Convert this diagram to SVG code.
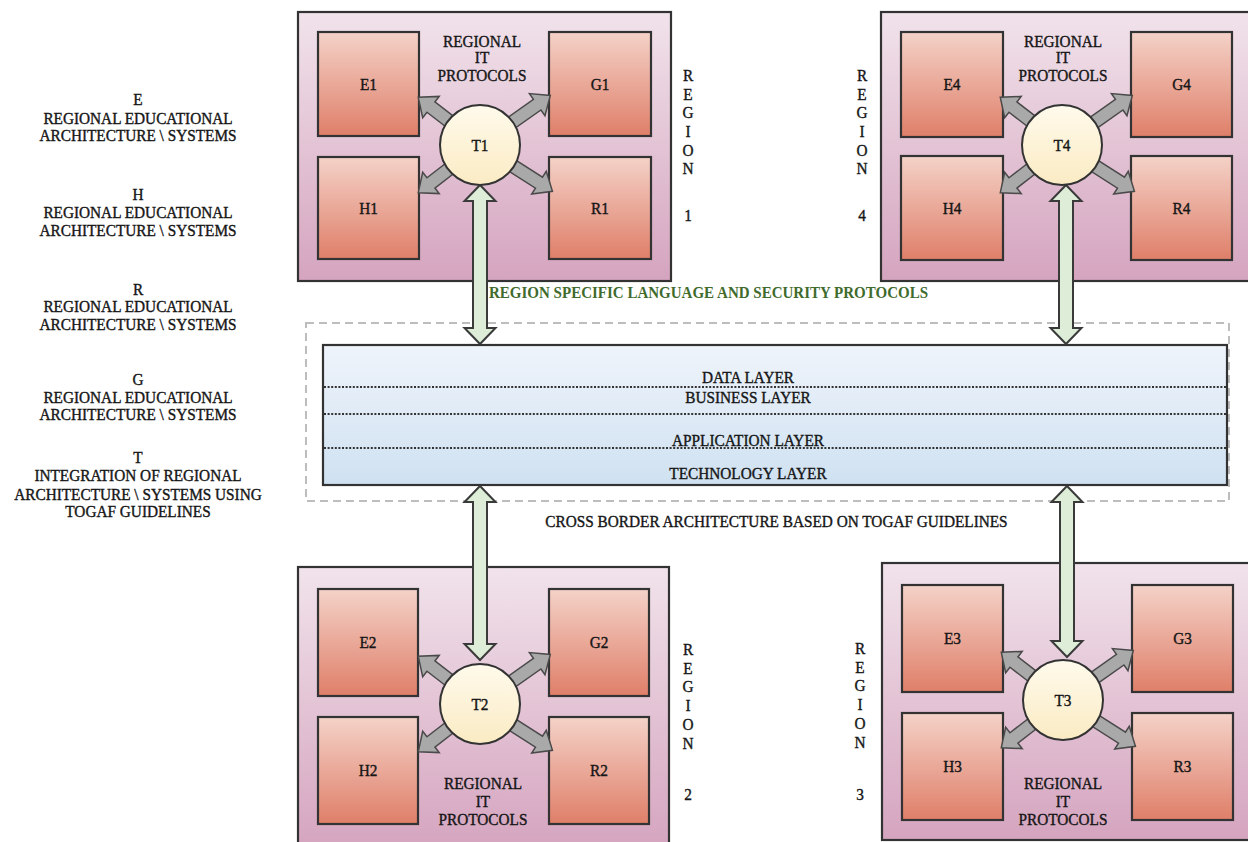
<svg xmlns="http://www.w3.org/2000/svg" width="1248" height="842" viewBox="0 0 1248 842">
<defs>
<style>
.t{font-family:"Liberation Serif","Times New Roman",serif;font-size:17px;fill:#161616;stroke:#161616;stroke-width:0.4}
.c{text-anchor:middle}
.reg{fill:url(#gReg);stroke:#333333;stroke-width:2.2}
.box{fill:url(#gBox);stroke:#333333;stroke-width:2.2}
.tc{fill:url(#gT);stroke:#333333;stroke-width:2}
.ga{fill:#a9a9a9;stroke:#4a4a4a;stroke-width:1.5}
.gr{fill:#ddedd8;stroke:#3a3a3a;stroke-width:2}
.dot{stroke:#333;stroke-width:2;stroke-dasharray:2 1.6}
.grn{font-family:"Liberation Serif","Times New Roman",serif;font-size:17px;font-weight:bold;fill:#3f6b2d}
</style>
<linearGradient id="gReg" x1="0" y1="0" x2="0" y2="1"><stop offset="0" stop-color="#f1e3eb"/><stop offset="1" stop-color="#d5a4bf"/></linearGradient>
<linearGradient id="gBox" x1="0" y1="0" x2="0" y2="1"><stop offset="0" stop-color="#f4d2c8"/><stop offset="1" stop-color="#df7f69"/></linearGradient>
<linearGradient id="gT" x1="0" y1="0" x2="0" y2="1"><stop offset="0" stop-color="#fffaec"/><stop offset="1" stop-color="#faebc3"/></linearGradient>
<linearGradient id="gLay" x1="0" y1="0" x2="0" y2="1"><stop offset="0" stop-color="#eff4fb"/><stop offset="1" stop-color="#cfe1f1"/></linearGradient>
<path id="gaS" class="ga" d="M28,-6.5 H62 V-13.5 L78,0 L62,13.5 V6.5 H28 Z"/>
<path id="gaL" class="ga" d="M28,-6.5 H70 V-13.5 L86,0 L70,13.5 V6.5 H28 Z"/>
</defs>
<rect x="0" y="0" width="1248" height="842" fill="#ffffff"/>

<g id="legend" class="t c" transform="scale(0.9,1)">
<text x="153.33" y="105">E</text>
<text x="153.33" y="124">REGIONAL EDUCATIONAL</text>
<text x="153.33" y="141">ARCHITECTURE \ SYSTEMS</text>
<text x="153.33" y="200">H</text>
<text x="153.33" y="218">REGIONAL EDUCATIONAL</text>
<text x="153.33" y="236">ARCHITECTURE \ SYSTEMS</text>
<text x="153.33" y="295">R</text>
<text x="153.33" y="312">REGIONAL EDUCATIONAL</text>
<text x="153.33" y="330">ARCHITECTURE \ SYSTEMS</text>
<text x="153.33" y="385">G</text>
<text x="153.33" y="403">REGIONAL EDUCATIONAL</text>
<text x="153.33" y="420">ARCHITECTURE \ SYSTEMS</text>
<text x="153.33" y="463">T</text>
<text x="153.33" y="481">INTEGRATION OF REGIONAL</text>
<text x="153.33" y="500">ARCHITECTURE \ SYSTEMS USING</text>
<text x="153.33" y="517">TOGAF GUIDELINES</text>
</g>

<g id="layers">
<rect x="306" y="323" width="923" height="178" fill="none" stroke="#bdbdbd" stroke-width="2" stroke-dasharray="8 5"/>
<rect x="323" y="345" width="904" height="140" fill="url(#gLay)" stroke="#333333" stroke-width="2.2"/>
<line class="dot" x1="324" y1="387" x2="1226" y2="387"/>
<line class="dot" x1="324" y1="414" x2="1226" y2="414"/>
<line class="dot" x1="324" y1="448" x2="1226" y2="448"/>
<g class="t c" transform="scale(0.9,1)">
<text x="831.11" y="383">DATA LAYER</text>
<text x="831.11" y="403">BUSINESS LAYER</text>
<text x="831.11" y="446">APPLICATION LAYER</text>
<text x="831.11" y="479">TECHNOLOGY LAYER</text>
<text x="862.78" y="527">CROSS BORDER ARCHITECTURE BASED ON TOGAF GUIDELINES</text>
</g>
</g>

<g id="region1">
<rect class="reg" x="298" y="12" width="373" height="269"/>
<g class="t c" transform="scale(0.9,1)">
<text x="535.56" y="47">REGIONAL</text>
<text x="535.56" y="63.5">IT</text>
<text x="535.56" y="81">PROTOCOLS</text>
<text><tspan x="764.44" y="81">R</tspan><tspan x="764.44" y="99.7">E</tspan><tspan x="764.44" y="118.4">G</tspan><tspan x="764.44" y="137.1">I</tspan><tspan x="764.44" y="155.8">O</tspan><tspan x="764.44" y="174.5">N</tspan><tspan x="764.44" y="221">1</tspan></text>
</g>
</g>
<g id="E1"><rect class="box" x="318" y="32" width="101" height="104"/><text class="t c" transform="scale(0.9,1)" x="409.44" y="90">E1</text></g>
<g id="G1"><rect class="box" x="549" y="32" width="102" height="104"/><text class="t c" transform="scale(0.9,1)" x="666.67" y="90">G1</text></g>
<g id="H1"><rect class="box" x="318" y="157" width="101" height="102"/><text class="t c" transform="scale(0.9,1)" x="409.44" y="214">H1</text></g>
<g id="R1"><rect class="box" x="549" y="157" width="102" height="102"/><text class="t c" transform="scale(0.9,1)" x="666.67" y="214">R1</text></g>

<g id="region4">
<rect class="reg" x="881" y="12" width="369" height="269"/>
<g class="t c" transform="scale(0.9,1)">
<text x="1181.11" y="47">REGIONAL</text>
<text x="1181.11" y="63.5">IT</text>
<text x="1181.11" y="81">PROTOCOLS</text>
<text><tspan x="957.78" y="81">R</tspan><tspan x="957.78" y="99.7">E</tspan><tspan x="957.78" y="118.4">G</tspan><tspan x="957.78" y="137.1">I</tspan><tspan x="957.78" y="155.8">O</tspan><tspan x="957.78" y="174.5">N</tspan><tspan x="957.78" y="221">4</tspan></text>
</g>
</g>
<g id="E4"><rect class="box" x="901" y="32" width="102" height="105"/><text class="t c" transform="scale(0.9,1)" x="1057.78" y="90">E4</text></g>
<g id="G4"><rect class="box" x="1131" y="32" width="101" height="105"/><text class="t c" transform="scale(0.9,1)" x="1312.78" y="90">G4</text></g>
<g id="H4"><rect class="box" x="901" y="156" width="102" height="104"/><text class="t c" transform="scale(0.9,1)" x="1057.78" y="214">H4</text></g>
<g id="R4"><rect class="box" x="1131" y="156" width="101" height="104"/><text class="t c" transform="scale(0.9,1)" x="1312.78" y="214">R4</text></g>

<g id="region2">
<rect class="reg" x="298" y="567" width="371" height="282"/>
<g class="t c" transform="scale(0.9,1)">
<text x="536.67" y="789">REGIONAL</text>
<text x="536.67" y="807">IT</text>
<text x="536.67" y="825">PROTOCOLS</text>
<text><tspan x="764.44" y="655">R</tspan><tspan x="764.44" y="674">E</tspan><tspan x="764.44" y="692.5">G</tspan><tspan x="764.44" y="711">I</tspan><tspan x="764.44" y="730">O</tspan><tspan x="764.44" y="749">N</tspan><tspan x="764.44" y="800">2</tspan></text>
</g>
</g>
<g id="E2"><rect class="box" x="318" y="589" width="100" height="107"/><text class="t c" transform="scale(0.9,1)" x="408.89" y="648">E2</text></g>
<g id="G2"><rect class="box" x="549" y="589" width="100" height="107"/><text class="t c" transform="scale(0.9,1)" x="665.56" y="648">G2</text></g>
<g id="H2"><rect class="box" x="318" y="717" width="100" height="107"/><text class="t c" transform="scale(0.9,1)" x="408.89" y="776">H2</text></g>
<g id="R2"><rect class="box" x="549" y="717" width="100" height="107"/><text class="t c" transform="scale(0.9,1)" x="665.56" y="776">R2</text></g>

<g id="region3">
<rect class="reg" x="882" y="563" width="368" height="277"/>
<g class="t c" transform="scale(0.9,1)">
<text x="1181.11" y="789">REGIONAL</text>
<text x="1181.11" y="807">IT</text>
<text x="1181.11" y="825">PROTOCOLS</text>
<text><tspan x="955.56" y="654">R</tspan><tspan x="955.56" y="673">E</tspan><tspan x="955.56" y="691.5">G</tspan><tspan x="955.56" y="710">I</tspan><tspan x="955.56" y="729">O</tspan><tspan x="955.56" y="748">N</tspan><tspan x="955.56" y="800">3</tspan></text>
</g>
</g>
<g id="E3"><rect class="box" x="902" y="585" width="101" height="107"/><text class="t c" transform="scale(0.9,1)" x="1058.33" y="644">E3</text></g>
<g id="G3"><rect class="box" x="1132" y="585" width="101" height="107"/><text class="t c" transform="scale(0.9,1)" x="1313.89" y="644">G3</text></g>
<g id="H3"><rect class="box" x="902" y="713" width="101" height="107"/><text class="t c" transform="scale(0.9,1)" x="1058.33" y="772">H3</text></g>
<g id="R3"><rect class="box" x="1132" y="713" width="101" height="107"/><text class="t c" transform="scale(0.9,1)" x="1313.89" y="772">R3</text></g>

<g id="connectors">
<use href="#gaS" transform="translate(480,145) rotate(-142.3)"/>
<use href="#gaL" transform="translate(480,145) rotate(-35.2)"/>
<use href="#gaS" transform="translate(480,145) rotate(142.3)"/>
<use href="#gaL" transform="translate(480,145) rotate(32.6)"/>
<use href="#gaS" transform="translate(1062,145) rotate(-142.3)"/>
<use href="#gaL" transform="translate(1062,145) rotate(-35.2)"/>
<use href="#gaS" transform="translate(1062,145) rotate(142.3)"/>
<use href="#gaL" transform="translate(1062,145) rotate(32.6)"/>
<use href="#gaS" transform="translate(480,704) rotate(-142.3)"/>
<use href="#gaL" transform="translate(480,704) rotate(-35.2)"/>
<use href="#gaS" transform="translate(480,704) rotate(142.3)"/>
<use href="#gaL" transform="translate(480,704) rotate(32.6)"/>
<use href="#gaS" transform="translate(1063,700) rotate(-142.3)"/>
<use href="#gaL" transform="translate(1063,700) rotate(-35.2)"/>
<use href="#gaS" transform="translate(1063,700) rotate(142.3)"/>
<use href="#gaL" transform="translate(1063,700) rotate(32.6)"/>
<path class="gr" d="M480,185 L495.5,201 L487,201 L487,328 L495.5,328 L480,344 L464.5,328 L473,328 L473,201 L464.5,201 Z"/>
<path class="gr" d="M1066,185 L1081.5,201 L1073,201 L1073,328 L1081.5,328 L1066,344 L1050.5,328 L1059,328 L1059,201 L1050.5,201 Z"/>
<path class="gr" d="M480,486 L495.5,502 L487,502 L487,644 L495.5,644 L480,660 L464.5,644 L473,644 L473,502 L464.5,502 Z"/>
<path class="gr" d="M1067,486 L1082.5,502 L1074,502 L1074,641 L1082.5,641 L1067,657 L1051.5,641 L1060,641 L1060,502 L1051.5,502 Z"/>
<text class="grn" transform="scale(0.9,1)" x="543.33" y="298" textLength="487.8" lengthAdjust="spacingAndGlyphs">REGION SPECIFIC LANGUAGE AND SECURITY PROTOCOLS</text>
</g>

<g id="T1"><circle class="tc" cx="480" cy="145" r="40"/><text class="t c" transform="scale(0.9,1)" x="533.33" y="151">T1</text></g>
<g id="T4"><circle class="tc" cx="1062" cy="145" r="40"/><text class="t c" transform="scale(0.9,1)" x="1180" y="151">T4</text></g>
<g id="T2"><circle class="tc" cx="480" cy="704" r="40"/><text class="t c" transform="scale(0.9,1)" x="533.33" y="710">T2</text></g>
<g id="T3"><circle class="tc" cx="1063" cy="700" r="40"/><text class="t c" transform="scale(0.9,1)" x="1181.11" y="706">T3</text></g>
</svg>
